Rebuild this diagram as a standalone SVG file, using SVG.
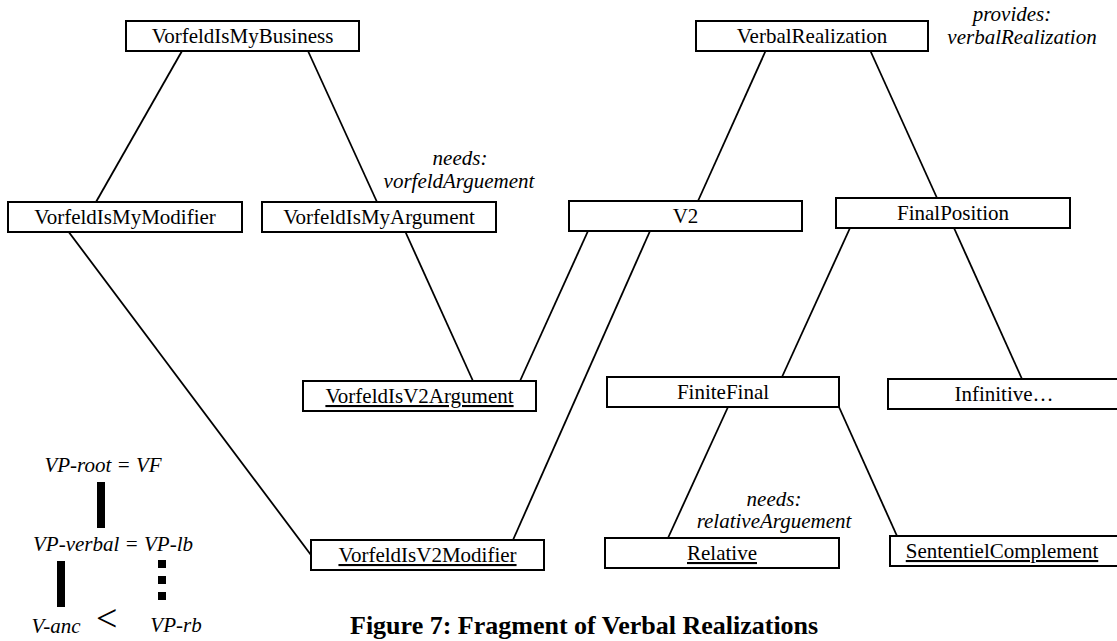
<svg xmlns="http://www.w3.org/2000/svg" width="1117" height="641" viewBox="0 0 1117 641">
  <style>
    .box { fill: #ffffff; stroke: #000000; stroke-width: 2; }
    .lbl { font-family: "Liberation Serif", "Times New Roman", serif; font-size: 21px; fill: #000000; text-anchor: middle; }
    .u { text-decoration: underline; }
    .note { font-family: "Liberation Serif", "Times New Roman", serif; font-size: 21px; font-style: italic; fill: #000000; text-anchor: middle; }
    .edge { stroke: #000000; stroke-width: 1.8; fill: none; }
    .cap { font-family: "Liberation Serif", "Times New Roman", serif; font-size: 26px; font-weight: bold; fill: #000000; }
  </style>
  <rect width="1117" height="641" fill="#ffffff"/>

  <!-- tree edges -->
  <g id="connectors">
    <line class="edge" x1="182" y1="51" x2="96" y2="202"/>
    <line class="edge" x1="308" y1="51" x2="377" y2="202"/>
    <line class="edge" x1="68" y1="231" x2="311" y2="555"/>
    <line class="edge" x1="405" y1="231" x2="473" y2="381"/>
    <line class="edge" x1="766" y1="50" x2="698" y2="201"/>
    <line class="edge" x1="870" y1="50" x2="937" y2="198"/>
    <line class="edge" x1="588" y1="231" x2="520" y2="381"/>
    <line class="edge" x1="650" y1="231" x2="513" y2="540"/>
    <line class="edge" x1="850" y1="228" x2="782" y2="377"/>
    <line class="edge" x1="954" y1="228" x2="1022" y2="379"/>
    <line class="edge" x1="728" y1="407" x2="668" y2="538"/>
    <line class="edge" x1="839" y1="407" x2="897" y2="536"/>
  </g>

  <!-- nodes -->
  <g id="VorfeldIsMyBusiness">
    <rect class="box" x="126" y="21" width="233" height="30"/>
    <text class="lbl" x="242.5" y="43">VorfeldIsMyBusiness</text>
  </g>
  <g id="VorfeldIsMyModifier">
    <rect class="box" x="8" y="202" width="234" height="30"/>
    <text class="lbl" x="125" y="224">VorfeldIsMyModifier</text>
  </g>
  <g id="VorfeldIsMyArgument">
    <rect class="box" x="262" y="202" width="234" height="30"/>
    <text class="lbl" x="379" y="224">VorfeldIsMyArgument</text>
  </g>
  <g id="VerbalRealization">
    <rect class="box" x="696" y="21" width="232" height="30"/>
    <text class="lbl" x="812" y="43">VerbalRealization</text>
  </g>
  <g id="V2">
    <rect class="box" x="569" y="201" width="233" height="30"/>
    <text class="lbl" x="685.5" y="223">V2</text>
  </g>
  <g id="FinalPosition">
    <rect class="box" x="836" y="198" width="234" height="30"/>
    <text class="lbl" x="953" y="220">FinalPosition</text>
  </g>
  <g id="VorfeldIsV2Argument">
    <rect class="box" x="303" y="381" width="233" height="30"/>
    <text class="lbl u" x="419.5" y="403">VorfeldIsV2Argument</text>
  </g>
  <g id="FiniteFinal">
    <rect class="box" x="607" y="377" width="232" height="30"/>
    <text class="lbl" x="723" y="399">FiniteFinal</text>
  </g>
  <g id="Infinitive">
    <rect class="box" x="888" y="379" width="234" height="30"/>
    <text class="lbl" x="1004" y="401">Infinitive…</text>
  </g>
  <g id="VorfeldIsV2Modifier">
    <rect class="box" x="311" y="540" width="233" height="30"/>
    <text class="lbl u" x="427.5" y="562">VorfeldIsV2Modifier</text>
  </g>
  <g id="Relative">
    <rect class="box" x="605" y="538" width="234" height="30"/>
    <text class="lbl u" x="722" y="560">Relative</text>
  </g>
  <g id="SententielComplement">
    <rect class="box" x="890" y="536" width="234" height="30"/>
    <text class="lbl u" x="1002" y="558">SententielComplement</text>
  </g>

  <!-- feature annotations -->
  <g id="annotations">
    <text class="note" x="460" y="165">needs:</text>
    <text class="note" x="459" y="188">vorfeldArguement</text>
    <text class="note" x="1012" y="21">provides:</text>
    <text class="note" x="1022" y="44">verbalRealization</text>
    <text class="note" x="774" y="506">needs:</text>
    <text class="note" x="774" y="528">relativeArguement</text>
  </g>

  <!-- topological field legend -->
  <g id="legend">
    <text class="note" x="103" y="472">VP-root = VF</text>
    <rect x="97" y="482" width="8" height="46" fill="#000000"/>
    <text class="note" x="113" y="551">VP-verbal = VP-lb</text>
    <rect x="57" y="561" width="8" height="46" fill="#000000"/>
    <rect x="158" y="560" width="8" height="8" fill="#000000"/>
    <rect x="158" y="576" width="8" height="8" fill="#000000"/>
    <rect x="158" y="592" width="8" height="8" fill="#000000"/>
    <text class="note" x="56" y="633">V-anc</text>
    <text x="96" y="631" font-family="Liberation Serif, Times New Roman, serif" font-size="38" fill="#000000">&lt;</text>
    <text class="note" x="176" y="632">VP-rb</text>
  </g>

  <text id="caption" class="cap" x="350" y="634">Figure 7: Fragment of Verbal Realizations</text>
</svg>
